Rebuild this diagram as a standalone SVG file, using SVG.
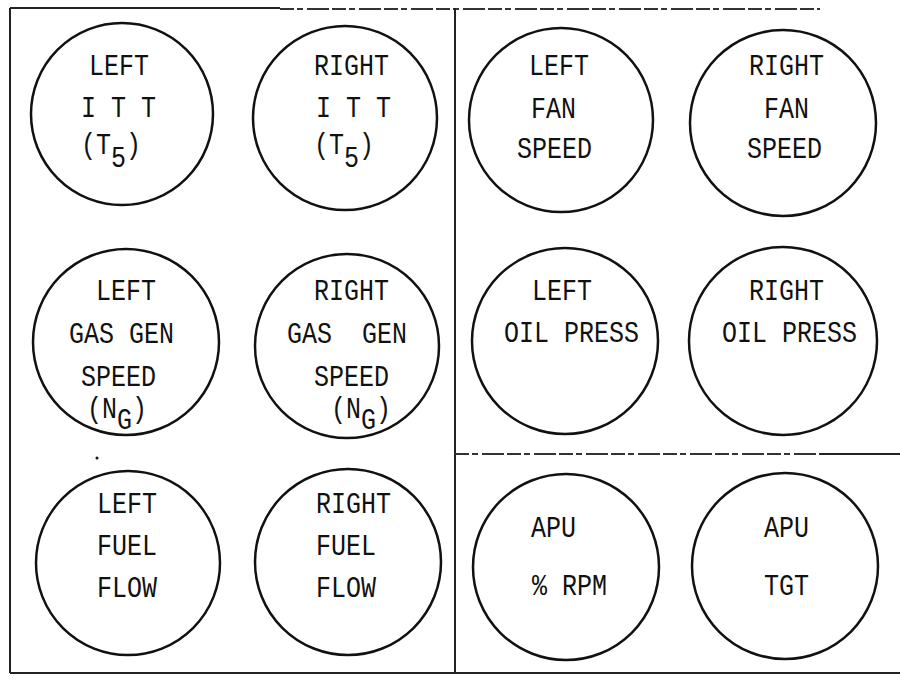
<svg xmlns="http://www.w3.org/2000/svg" width="900" height="681" viewBox="0 0 900 681">
<style>
.bg{fill:#fff}
.g{fill:none;stroke:#111;stroke-width:2.5}
.ln{fill:none;stroke:#222;stroke-width:2}
.dl{fill:none;stroke:#333;stroke-width:1.8;stroke-dasharray:14 3 6 4 22 3}
.t{font-family:"Liberation Mono","DejaVu Sans Mono",monospace;font-size:25px;fill:#111;white-space:pre}
</style>
<rect class="bg" x="0" y="0" width="900" height="681"/>
<g id="frame">
<line class="ln" x1="10" y1="8" x2="280" y2="8"/>
<line class="dl" x1="280" y1="9" x2="820" y2="9"/>
<line class="ln" x1="10" y1="8" x2="10" y2="673"/>
<line class="ln" x1="455" y1="8" x2="455" y2="673"/>
<line class="ln" x1="10" y1="673" x2="900" y2="673"/>
<line class="dl" x1="455" y1="454" x2="820" y2="454"/>
<line class="ln" x1="820" y1="454" x2="900" y2="454"/>
<circle cx="97" cy="458" r="1.5" fill="#111"/>
</g>
<g id="left-itt">
<circle class="g" cx="122" cy="114" r="91"/>
<text class="t" transform="translate(89,75) scale(1,1.2)">LEFT</text>
<text class="t" transform="translate(81,117) scale(1,1.2)">I T T</text>
<text class="t" transform="translate(81,154) scale(1,1.2)">(T<tspan dy="11">5</tspan><tspan dy="-11">)</tspan></text>
</g>
<g id="right-itt">
<circle class="g" cx="345" cy="118" r="92"/>
<text class="t" transform="translate(314,75) scale(1,1.2)">RIGHT</text>
<text class="t" transform="translate(316,117) scale(1,1.2)">I T T</text>
<text class="t" transform="translate(314,154) scale(1,1.2)">(T<tspan dy="11">5</tspan><tspan dy="-11">)</tspan></text>
</g>
<g id="left-fan">
<circle class="g" cx="561" cy="120" r="92"/>
<text class="t" transform="translate(529,75) scale(1,1.2)">LEFT</text>
<text class="t" transform="translate(531,118) scale(1,1.2)">FAN</text>
<text class="t" transform="translate(517,158) scale(1,1.2)">SPEED</text>
</g>
<g id="right-fan">
<circle class="g" cx="783" cy="123" r="93"/>
<text class="t" transform="translate(749,75) scale(1,1.2)">RIGHT</text>
<text class="t" transform="translate(764,118) scale(1,1.2)">FAN</text>
<text class="t" transform="translate(747,158) scale(1,1.2)">SPEED</text>
</g>
<g id="left-gasgen">
<circle class="g" cx="126" cy="342" r="93"/>
<text class="t" transform="translate(96,300) scale(1,1.2)">LEFT</text>
<text class="t" transform="translate(69,343) scale(1,1.2)">GAS GEN</text>
<text class="t" transform="translate(81,386) scale(1,1.2)">SPEED</text>
<text class="t" transform="translate(87,418) scale(1,1.2)">(N<tspan dy="9">G</tspan><tspan dy="-9">)</tspan></text>
</g>
<g id="right-gasgen">
<circle class="g" cx="347" cy="346" r="92"/>
<text class="t" transform="translate(314,300) scale(1,1.2)">RIGHT</text>
<text class="t" transform="translate(287,343) scale(1,1.2)">GAS  GEN</text>
<text class="t" transform="translate(314,386) scale(1,1.2)">SPEED</text>
<text class="t" transform="translate(331,418) scale(1,1.2)">(N<tspan dy="9">G</tspan><tspan dy="-9">)</tspan></text>
</g>
<g id="left-oil">
<circle class="g" cx="565" cy="341" r="93"/>
<text class="t" transform="translate(532,300) scale(1,1.2)">LEFT</text>
<text class="t" transform="translate(504,342) scale(1,1.2)">OIL PRESS</text>
</g>
<g id="right-oil">
<circle class="g" cx="783" cy="341" r="94"/>
<text class="t" transform="translate(749,300) scale(1,1.2)">RIGHT</text>
<text class="t" transform="translate(722,342) scale(1,1.2)">OIL PRESS</text>
</g>
<g id="left-fuel">
<circle class="g" cx="128" cy="563" r="92"/>
<text class="t" transform="translate(97,513) scale(1,1.2)">LEFT</text>
<text class="t" transform="translate(97,555) scale(1,1.2)">FUEL</text>
<text class="t" transform="translate(97,597) scale(1,1.2)">FLOW</text>
</g>
<g id="right-fuel">
<circle class="g" cx="348" cy="562" r="93"/>
<text class="t" transform="translate(316,513) scale(1,1.2)">RIGHT</text>
<text class="t" transform="translate(316,555) scale(1,1.2)">FUEL</text>
<text class="t" transform="translate(316,597) scale(1,1.2)">FLOW</text>
</g>
<g id="apu-rpm">
<circle class="g" cx="566" cy="567" r="93"/>
<text class="t" transform="translate(531,537) scale(1,1.2)">APU</text>
<text class="t" transform="translate(532,595) scale(1,1.2)">% RPM</text>
</g>
<g id="apu-tgt">
<circle class="g" cx="785" cy="566" r="93"/>
<text class="t" transform="translate(764,537) scale(1,1.2)">APU</text>
<text class="t" transform="translate(764,595) scale(1,1.2)">TGT</text>
</g>
<g id="connectors"></g>
</svg>
